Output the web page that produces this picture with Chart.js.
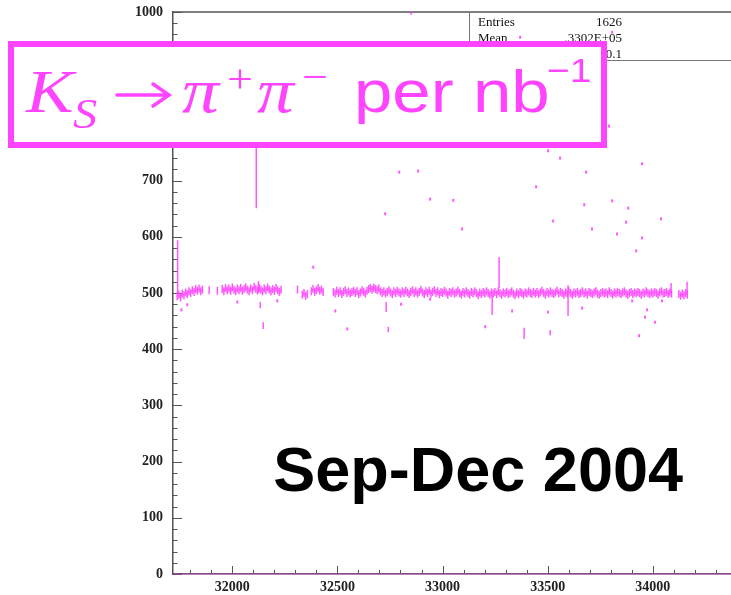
<!DOCTYPE html>
<html lang="en">
<head>
    <meta charset="UTF-8">
    <title>Ks per nb-1 vs run</title>
    <style>
        body { margin: 0; padding: 0; background: #fff; }
        #wrap { position: relative; width: 731px; height: 595px; }
    </style>
    <script src="https://cdn.jsdelivr.net/npm/chart.js"></script>
</head>
<body>
    <div id="wrap"><canvas id="runChart" width="731" height="595"></canvas></div>

    <script>
        // axis ranges and tick labels
        const xRange = [31718, 34372];
        const yRange = [0, 1000];
        const xTickLabels = [32000, 32500, 33000, 33500, 34000];
        const yTickLabels = [0, 100, 200, 300, 400, 500, 600, 700, 800, 900, 1000];

        // stats box
        const statEntries = '1626';
        const statMean = '.3302E+05';
        const statRms = '670.1';

        // main band: runs in segments, one value every 8 runs
        const segStep = 8;
        const segStart = [31738, 31890, 31929, 31952, 32310, 32333, 32376, 32481, 34124];
        const segValues = [
            [494,497,492,499,496,501,498,503,500,505,502,507,504,508,503,506],
            [505],
            [504],
            [507,503,509,505,508,504,510,506,503,508,505,509,504,507,510,506,503,508,
             505,511,507,504,509,506,503,508,505,510,506,503,507,504,509,505,502,506],
            [506],
            [497,500,495,498],
            [503,507,502,505,509,504,506,502],
            [502,499,504,500,503,498,502,505,500,503,499,502,504,500,503,498,501,505,502,499,
             504,507,509,506,510,507,505,508,503,500,503,499,502,505,501,498,503,500,504,501,
             499,503,500,504,501,498,502,505,500,503,499,502,506,501,498,503,500,504,499,502,
             505,500,503,498,502,500,504,501,497,502,500,503,499,501,504,500,497,502,499,503,
             500,497,502,499,503,500,496,501,498,502,499,503,500,497,501,499,502,498,503,500,
             497,501,499,502,498,500,503,499,496,501,498,502,500,497,501,499,503,500,498,502,
             499,502,498,501,504,500,497,502,499,503,500,498,501,504,499,502,500,497,501,499,
             503,500,497,501,499,502,498,500,503,499,501,497,502,500,498,501,503,499,497,500,
             502,499,501,498,503,500,497,501,499,502,500,498,501,503,499,497,500,502,498,501,
             499,502,500,497,501,499,503,500,498,501,499,502,500,497,501,503,499,500,502,498,
             501,499],
            [498,495,499,496,500,497]
        ];

        // runs with a wide spread (drawn as vertical strokes)
        const spikeRuns = [31740, 32114, 32124, 32133, 32147, 32732, 32742, 33236, 33269, 33388, 33512, 33597, 34087, 34163];
        const spikeLow  = [500, 651, 500, 473, 436, 466, 430, 461, 509, 418, 425, 459, 500, 497];
        const spikeHigh = [594, 762, 521, 484, 448, 484, 440, 496, 564, 438, 434, 514, 518, 520];

        // isolated runs away from the band
        const outlierRuns = [31758, 31786, 32024, 32214, 32385, 32490, 32547, 32803, 32941, 33203,
                             33331, 33502, 33664, 33902, 33973, 33963, 34011, 33935, 34044,
                             32794, 32884, 32727, 32941, 33051, 33093, 33502, 33559, 33445, 33683,
                             33674, 33526, 33711, 33807, 33883, 33873, 33830, 33949, 34039, 33949,
                             33921, 33792, 32851, 33369, 33807];
        const outlierVals = [470, 479, 484, 486, 546, 468, 436, 480, 489, 440,
                             468, 466, 473, 486, 470, 457, 448, 424, 486,
                             715, 717, 641, 667, 665, 614, 753, 740, 689, 715,
                             657, 628, 614, 664, 651, 626, 605, 730, 632, 598,
                             575, 797, 998, 955, 964];

        const magenta = '#ff44ff';
        const bandColor = 'rgba(255,70,255,0.9)';
        const stretch = 1.15;

        // build datasets
        const bandData = [];
        segStart.forEach((s, i) => {
            segValues[i].forEach((v, j) => bandData.push({ x: s + j * segStep, y: v }));
            bandData.push({ x: s + segValues[i].length * segStep, y: null });
        });
        const spikeData = [];
        spikeRuns.forEach((r, i) => {
            spikeData.push({ x: r, y: spikeLow[i] });
            spikeData.push({ x: r, y: spikeHigh[i] });
            spikeData.push({ x: r, y: null });
        });
        const outlierData = outlierRuns.map((r, i) => ({ x: r, y: outlierVals[i] }));
        const zeroData = [{ x: xRange[0], y: 0 }, { x: xRange[1], y: 0 }];

        function wideText(ctx, text, x, y, font) {
            ctx.save();
            ctx.font = font;
            ctx.translate(x, y);
            ctx.scale(stretch, 1);
            ctx.fillText(text, 0, 0);
            ctx.restore();
        }

        // ROOT style frame: inward ticks, top line and stats box
        const framePlugin = {
            id: 'frame',
            beforeDatasetsDraw(chart) {
                const { ctx, chartArea: a, scales: { x, y } } = chart;
                ctx.save();
                ctx.strokeStyle = '#555';
                ctx.lineWidth = 1;
                ctx.beginPath();
                for (let v = 31800; v <= xRange[1]; v += 100) {
                    const px = Math.round(x.getPixelForValue(v)) + 0.5;
                    const len = v % 500 === 0 ? 8 : 4;
                    ctx.moveTo(px, a.bottom);
                    ctx.lineTo(px, a.bottom - len);
                }
                for (let v = 0; v <= 1000; v += 20) {
                    const py = Math.round(y.getPixelForValue(v)) + 0.5;
                    const len = v % 100 === 0 ? 9 : 4.5;
                    ctx.moveTo(a.left, py);
                    ctx.lineTo(a.left + len, py);
                }
                ctx.stroke();
                // top frame line
                ctx.lineWidth = 1.5;
                ctx.beginPath();
                ctx.moveTo(a.left, a.top);
                ctx.lineTo(731, a.top);
                ctx.stroke();
                // stats box
                ctx.strokeStyle = '#777';
                ctx.lineWidth = 1;
                ctx.beginPath();
                ctx.moveTo(469.5, a.top);
                ctx.lineTo(469.5, 60.5);
                ctx.lineTo(731, 60.5);
                ctx.stroke();
                ctx.fillStyle = '#111';
                ctx.font = '13px "Liberation Serif"';
                ctx.textAlign = 'left';
                ctx.fillText('Entries', 478, 26);
                ctx.fillText('Mean', 478, 42);
                ctx.fillText('RMS', 478, 58);
                ctx.textAlign = 'right';
                ctx.fillText(statEntries, 622, 26);
                ctx.fillText(statMean, 622, 42);
                ctx.fillText(statRms, 622, 58);
                ctx.restore();
            },
            afterDraw(chart) {
                const { ctx } = chart;
                ctx.save();
                // title box
                ctx.fillStyle = '#fff';
                ctx.fillRect(8, 41, 599, 107);
                ctx.strokeStyle = magenta;
                ctx.lineWidth = 6;
                ctx.strokeRect(11, 44, 593, 101);
                ctx.fillStyle = magenta;
                ctx.textAlign = 'left';
                wideText(ctx, 'K', 26, 112, 'italic 62px "Liberation Serif"');
                wideText(ctx, 'S', 73, 128, 'italic 42px "Liberation Serif"');
                // arrow
                ctx.strokeStyle = magenta;
                ctx.lineWidth = 3.5;
                ctx.lineCap = 'round';
                ctx.beginPath();
                ctx.moveTo(117, 95);
                ctx.lineTo(168, 95);
                ctx.moveTo(153, 84);
                ctx.lineTo(169, 95);
                ctx.lineTo(153, 106);
                ctx.stroke();
                wideText(ctx, '\u03c0', 182, 112, 'italic 64px "Liberation Serif"');
                wideText(ctx, '\u03c0', 257, 112, 'italic 64px "Liberation Serif"');
                wideText(ctx, '+', 227, 92, '40px "Liberation Serif"');
                wideText(ctx, '\u2212', 302, 90, '40px "Liberation Serif"');
                wideText(ctx, 'per nb', 354, 112, '60px "Liberation Sans"');
                wideText(ctx, '\u22121', 547, 82, '34px "Liberation Sans"');
                // period label
                ctx.fillStyle = '#000';
                ctx.font = 'bold 63px "Liberation Sans"';
                ctx.textAlign = 'right';
                ctx.fillText('Sep-Dec 2004', 683, 491);
                ctx.restore();
            }
        };

        const tickFont = { family: 'Liberation Serif', size: 14, weight: 'bold' };

        new Chart(document.getElementById('runChart'), {
            type: 'scatter',
            data: {
                datasets: [
                    {
                        data: zeroData,
                        showLine: true,
                        borderColor: 'rgba(210,60,210,0.7)',
                        borderWidth: 1,
                        pointRadius: 0,
                        clip: 6
                    },
                    {
                        data: bandData,
                        showLine: true,
                        spanGaps: false,
                        borderColor: bandColor,
                        borderWidth: 1,
                        pointStyle: 'line',
                        rotation: 90,
                        pointRadius: 4,
                        pointBorderWidth: 1.5,
                        pointBorderColor: bandColor,
                        clip: 6
                    },
                    {
                        data: spikeData,
                        showLine: true,
                        spanGaps: false,
                        borderColor: bandColor,
                        borderWidth: 1.5,
                        pointRadius: 0,
                        clip: 6
                    },
                    {
                        data: outlierData,
                        pointStyle: 'line',
                        rotation: 90,
                        pointRadius: 1.5,
                        pointBorderWidth: 2,
                        pointBorderColor: bandColor,
                        clip: 6
                    }
                ]
            },
            options: {
                responsive: false,
                animation: false,
                events: [],
                layout: { autoPadding: false, padding: { left: 0, top: 12, right: 0, bottom: 0 } },
                plugins: { legend: { display: false }, tooltip: { enabled: false } },
                scales: {
                    x: {
                        type: 'linear',
                        min: xRange[0],
                        max: xRange[1],
                        grid: { display: false, drawTicks: false },
                        border: { display: true, color: '#555', width: 1.5 },
                        ticks: { font: tickFont, color: '#222', padding: 5, maxRotation: 0, callback: v => String(v) },
                        afterBuildTicks: s => { s.ticks = xTickLabels.map(v => ({ value: v })); },
                        afterFit: s => { s.height = 21; }
                    },
                    y: {
                        min: yRange[0],
                        max: yRange[1],
                        grid: { display: false, drawTicks: false },
                        border: { display: true, color: '#555', width: 1.5 },
                        ticks: {
                            font: { family: 'Liberation Serif', size: 14, weight: 'bold', lineHeight: 0.2 },
                            color: '#222', padding: 10, callback: v => String(v)
                        },
                        afterBuildTicks: s => { s.ticks = yTickLabels.map(v => ({ value: v })); },
                        afterFit: s => { s.width = 173; }
                    }
                }
            },
            plugins: [framePlugin]
        });
    </script>
</body>
</html>
